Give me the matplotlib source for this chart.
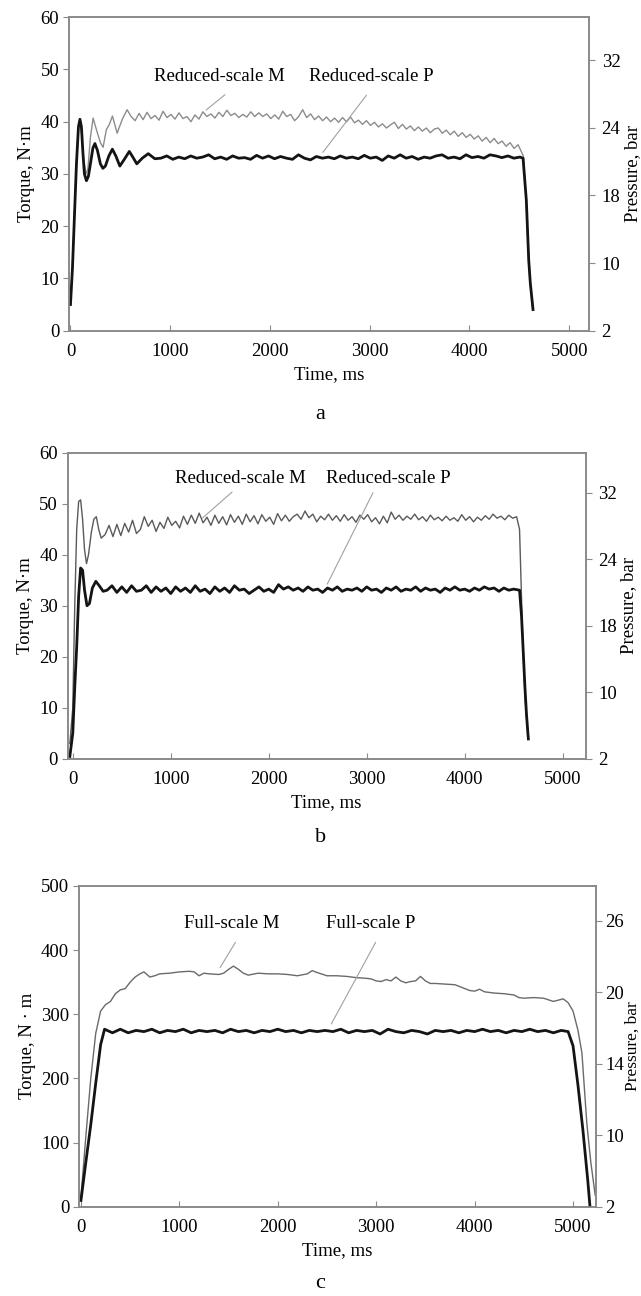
import numpy as np
import matplotlib.pyplot as plt

plt.rcParams['font.family'] = ['Liberation Serif', 'DejaVu Serif']

# ---------------- panel a : reduced-scale, torque M (N·m) and pressure P (bar)
a_m_start_t = [0, 20, 40, 60, 80, 95, 110, 130, 155, 175, 200, 227, 260, 300, 327, 360, 390, 421, 468, 520, 568]
a_m_start = [5, 12, 22, 32, 39, 40.3, 38, 33, 30, 31, 37, 40.7, 38.5, 36, 35.1, 38.5, 39.5, 41.1, 37.8, 40.5, 42.3]
a_m_plateau = [41.0, 40.2, 41.6, 40.4, 41.8, 40.6, 41.2, 40.3, 42.0, 40.8, 41.4, 40.5, 41.7, 40.6, 41.0, 40.0,
               41.3, 40.5, 41.9, 41.0, 41.5, 40.7, 41.8, 41.0, 42.2, 41.2, 41.6, 40.8, 41.4, 40.9, 41.9, 41.0,
               41.7, 41.0, 41.5, 40.6, 41.3, 40.5, 42.0, 41.0, 41.4, 40.2, 41.0, 42.3, 40.8, 41.5, 40.4, 41.1,
               40.2, 40.9, 40.0, 40.7, 39.9, 40.8, 40.0, 40.9, 39.8, 40.3, 39.5, 40.2, 39.3, 39.9, 39.0, 39.6,
               38.8, 39.4, 39.9, 38.7, 39.5, 38.6, 39.2, 38.3, 39.0, 38.2, 38.8, 37.9, 38.6, 38.8, 37.8, 38.4,
               37.5, 38.2, 37.2, 37.9, 37.0, 37.6, 36.7, 37.3, 36.3, 37.0, 36.0, 36.8, 35.8, 36.3, 35.3, 36.0,
               34.9, 35.6]
a_m_end_t = [4540, 4560, 4575, 4590, 4605, 4620, 4635]
a_m_end = [33.5, 28, 22, 15, 10, 7, 4]

a_p_start_t = [0, 20, 40, 60, 80, 95, 110, 125, 140, 160, 180, 200, 225, 245, 270, 300, 325, 350, 385, 420,
               455, 495, 540, 590, 625, 665, 720, 780, 846]
a_p_start = [5.1, 9.4, 15.6, 20.8, 24.1, 25.0, 24.1, 21.75, 19.9, 19.3, 19.7, 20.8, 22.2, 22.6, 22.0, 20.8,
             20.4, 20.6, 21.5, 22.1, 21.5, 20.6, 21.2, 21.9, 21.4, 20.8, 21.3, 21.7, 21.25]
a_p_plateau = [21.3, 21.5, 21.2, 21.4, 21.25, 21.5, 21.3, 21.4, 21.6, 21.25, 21.4, 21.2, 21.5, 21.3, 21.35,
               21.2, 21.55, 21.3, 21.5, 21.25, 21.45, 21.3, 21.2, 21.6, 21.3, 21.15, 21.45, 21.3, 21.4, 21.25,
               21.5, 21.3, 21.4, 21.25, 21.55, 21.3, 21.4, 21.1, 21.5, 21.3, 21.6, 21.3, 21.45, 21.2, 21.4,
               21.3, 21.5, 21.6, 21.3, 21.4, 21.25, 21.6, 21.35, 21.45, 21.3, 21.6, 21.5, 21.35, 21.5, 21.3,
               21.4]
a_p_end_t = [4538, 4571, 4595, 4611, 4638]
a_p_end = [21.3, 17.4, 10.3, 7.6, 4.5]

# ---------------- panel b : reduced-scale
b_m_start_t = [-30, 0, 20, 40, 60, 80, 100, 120, 140, 160, 190, 215, 240, 265, 290]
b_m_start = [3, 10, 30, 45, 50.5, 50.8, 47, 41, 38.3, 40, 44.5, 47, 47.5, 45, 43.3]
b_m_plateau = [44.0, 45.8, 43.6, 46.0, 43.8, 46.2, 44.5, 46.8, 44.2, 45.0, 47.5, 45.6, 46.8, 44.6, 46.4, 45.2,
               47.4, 45.8, 46.6, 45.3, 47.6, 46.0, 47.8, 46.2, 48.2, 46.3, 47.4, 45.8, 47.8, 46.2, 47.5, 45.9,
               47.9, 46.4, 47.6, 46.0, 48.0, 46.5, 47.7, 46.1, 47.9, 46.6, 47.4, 46.0, 48.1, 46.7, 47.8, 46.6,
               47.5, 48.0, 47.0, 48.6, 47.3, 48.0, 46.5, 47.6, 46.9, 48.0, 46.8, 47.7, 46.6, 47.9, 46.8, 47.5,
               46.4, 47.8, 47.0, 47.9, 46.5, 47.3, 46.1, 47.6, 46.3, 48.4, 47.0, 47.8, 46.8, 47.6, 47.0, 48.0,
               46.9, 47.5, 46.6, 47.8, 46.9, 47.4, 46.7, 47.6, 46.8, 47.3, 46.6, 47.9, 46.8, 47.5, 46.5, 47.4,
               46.8, 47.7, 47.0, 48.0, 47.2, 47.6, 46.9, 47.8, 47.2, 47.5]
b_m_end_t = [4560, 4575, 4590, 4605, 4620, 4635, 4650]
b_m_end = [45, 35, 25, 17, 11, 7, 4]

b_p_start_t = [-30, 0, 20, 40, 60, 80, 100, 120, 145, 170, 200, 235, 270, 310, 350]
b_p_start = [2.3, 5.1, 10.6, 15.5, 20.7, 23.2, 23.0, 21.2, 19.8, 20.0, 21.4, 22.0, 21.6, 21.1, 21.2]
b_p_plateau = [21.6, 21.0, 21.5, 21.0, 21.6, 21.1, 21.2, 21.6, 21.0, 21.5, 21.1, 21.4, 20.9, 21.5, 21.1,
               21.4, 21.0, 21.6, 21.1, 21.3, 20.9, 21.5, 21.1, 21.4, 21.0, 21.6, 21.2, 21.3, 20.9, 21.2,
               21.5, 21.1, 21.3, 21.0, 21.7, 21.3, 21.5, 21.2, 21.4, 21.1, 21.5, 21.2, 21.3, 21.0, 21.4,
               21.2, 21.5, 21.1, 21.3, 21.2, 21.4, 21.1, 21.5, 21.2, 21.3, 21.0, 21.4, 21.2, 21.5, 21.1,
               21.3, 21.2, 21.5, 21.1, 21.4, 21.2, 21.3, 21.0, 21.4, 21.2, 21.5, 21.2, 21.3, 21.1, 21.4,
               21.2, 21.5, 21.3, 21.4, 21.1, 21.4, 21.2, 21.3]
b_p_end_t = [4560, 4580, 4600, 4615, 4630, 4645, 4650]
b_p_end = [21.2, 18.9, 14.3, 10.6, 7.5, 5.1, 4.4]

# ---------------- panel c : full-scale
c_m_t = [0, 50, 100, 150, 200, 250, 300, 350, 400, 450, 500, 550, 600, 640, 700, 750, 800, 900, 1000, 1100,
         1150, 1200, 1250, 1300, 1400, 1450, 1500, 1550, 1600, 1650, 1700, 1800, 1900, 2000, 2100, 2200,
         2300, 2350, 2400, 2500, 2600, 2700, 2800, 2900, 2950, 3000, 3050, 3100, 3150, 3200, 3250, 3300,
         3350, 3400, 3450, 3500, 3550, 3600, 3700, 3800, 3850, 3900, 3950, 4000, 4050, 4100, 4200, 4300,
         4400, 4450, 4500, 4600, 4700, 4800, 4850, 4900, 4950, 5000, 5050, 5090, 5140, 5180, 5225]
c_m = [15, 110, 200, 270, 305, 315, 320, 332, 338, 340, 350, 358, 363, 366, 358, 360, 363, 364, 366, 367,
       366, 360, 364, 363, 362, 364, 370, 375, 370, 364, 361, 364, 363, 363, 362, 360,
       363, 368, 365, 360, 360, 359, 357, 356, 355, 352, 351, 354, 352, 358, 352, 349,
       351, 352, 359, 352, 348, 348, 347, 346, 343, 340, 337, 336, 339, 335, 333, 332,
       330, 326, 325, 326, 325, 320, 322, 324, 318, 305, 275, 240, 130, 70, 18]

c_p_start_t = [0, 50, 100, 150, 200, 240]
c_p_start = [2.7, 7.0, 10.6, 12.9, 15.6, 16.9]
c_p_plateau = [16.6, 16.9, 16.6, 16.8, 16.7, 16.9, 16.6, 16.8, 16.7, 16.9, 16.6, 16.8, 16.7, 16.8, 16.6,
               16.9, 16.7, 16.8, 16.6, 16.8, 16.7, 16.9, 16.7, 16.8, 16.6, 16.8, 16.7, 16.8, 16.7, 16.9,
               16.6, 16.8, 16.7, 16.8, 16.5, 16.9, 16.7, 16.6, 16.8, 16.7, 16.5, 16.8, 16.7, 16.8, 16.6,
               16.8, 16.7, 16.9, 16.7, 16.8, 16.6, 16.8, 16.7, 16.9, 16.7, 16.8, 16.6, 16.8]
c_p_end_t = [4950, 5000, 5050, 5100, 5150, 5172]
c_p_end = [16.7, 15.5, 12.8, 10.3, 4.9, 2.0]

# right-axis tick labels (the printed labels are equally spaced on the axis)
a_press_ticks = [2, 10, 18, 24, 32]
b_press_ticks = [2, 10, 18, 24, 32]
c_press_ticks = [2, 10, 14, 20, 26]


def join(t0, v0, step, plateau, t1, v1):
    t_mid = t0[-1] + step + step * np.arange(len(plateau))
    return np.concatenate([t0, t_mid, t1]), np.concatenate([v0, plateau, v1])


a_mt, a_mv = join(a_m_start_t, a_m_start, 40, a_m_plateau, a_m_end_t, a_m_end)
a_pt, a_pv = join(a_p_start_t, a_p_start, 60, a_p_plateau, a_p_end_t, a_p_end)
b_mt, b_mv = join(b_m_start_t, b_m_start, 40, b_m_plateau, b_m_end_t, b_m_end)
b_pt, b_pv = join(b_p_start_t, b_p_start, 50, b_p_plateau, b_p_end_t, b_p_end)
c_pt, c_pv = join(c_p_start_t, c_p_start, 80, c_p_plateau, c_p_end_t, c_p_end)

fig = plt.figure(figsize=(6.41, 12.96), dpi=100)
spine_c = '#8a8a8a'


def panel(rect, mt, mv, pt, pv, m_col, xlim, ylim, yticks, press_ticks, top_idx,
          m_name, p_name, txt_y, m_x, p_x, m_lead, p_lead, ylab, rpad, rfont=13.5, rtpad=5):
    ax = fig.add_axes(rect)
    ax2 = ax.twinx()
    ax.plot(mt, mv, color=m_col, lw=1.0, zorder=2)
    ax2.plot(pt, np.interp(pv, press_ticks, np.arange(len(press_ticks))), color='#141414', lw=2.0)
    ax.set_xlim(*xlim)
    ax.set_ylim(*ylim)
    ax2.set_ylim(0, top_idx)
    ax.set_xticks([0, 1000, 2000, 3000, 4000, 5000])
    ax.set_yticks(yticks)
    ax2.set_yticks(np.arange(len(press_ticks)))
    ax2.set_yticklabels([str(v) for v in press_ticks])
    ax.tick_params(axis='x', direction='in', length=4, pad=9, labelsize=13.5, color=spine_c)
    ax.tick_params(axis='y', direction='out', length=4, pad=3, labelsize=13.5, color=spine_c)
    ax2.tick_params(axis='y', direction='out', length=4, pad=rtpad, labelsize=13.5, color=spine_c)
    for a_ in (ax, ax2):
        for s in a_.spines.values():
            s.set_color(spine_c)
            s.set_linewidth(1.2)
    ax.set_xlabel('Time, ms', fontsize=13.5, labelpad=4)
    ax.set_ylabel(ylab, fontsize=13.5, labelpad=4)
    ax2.set_ylabel('Pressure, bar', fontsize=rfont, labelpad=rpad)
    ax.text(m_x, txt_y, m_name, ha='center', va='center', fontsize=13.5)
    ax.text(p_x, txt_y, p_name, ha='center', va='center', fontsize=13.5)
    for (x0, y0), (x1, y1) in (m_lead, p_lead):
        ax.annotate('', xy=(x1, y1), xytext=(x0, y0),
                    arrowprops=dict(arrowstyle='-', color='#a0a0a0', lw=0.8))
    return ax


panel([0.1076, 0.7448, 0.8114, 0.2419], a_mt, a_mv, a_pt, a_pv, '#8c8c8c', (-15, 5200), (0, 60),
      [0, 10, 20, 30, 40, 50, 60], a_press_ticks, 4.633, 'Reduced-scale M', 'Reduced-scale P', 48.6,
      1489, 3015, ((1570, 45.5), (1339, 41.9)), ((2985, 45.5), (2513, 33.7)), 'Torque, N·m', 3)

panel([0.1056, 0.4144, 0.8081, 0.2361], b_mt, b_mv, b_pt, b_pv, '#5a5a5a', (-52, 5235), (0, 60),
      [0, 10, 20, 30, 40, 50, 60], b_press_ticks, 4.594, 'Reduced-scale M', 'Reduced-scale P', 55.0,
      1709, 3224, ((1647, 52.7), (1304, 46.9)), ((3077, 52.7), (2585, 33.8)), 'Torque, N·m', 2)

panel([0.1232, 0.0689, 0.8061, 0.2475], c_m_t, c_m, c_pt, c_pv, '#6a6a6a', (-20, 5230), (0, 500),
      [0, 100, 200, 300, 400, 500], c_press_ticks, 4.488, 'Full-scale M', 'Full-scale P', 442,
      1535, 2942, ((1585, 416), (1399, 369)), ((3008, 416), (2530, 281)), 'Torque, N · m', 0,
      rfont=12.5, rtpad=3)

fig.text(0.5, 1 - 415 / 1296, 'a', ha='center', va='center', fontsize=16)
fig.text(0.5, 1 - 838 / 1296, 'b', ha='center', va='center', fontsize=16)
fig.text(0.5, 1 - 1284 / 1296, 'c', ha='center', va='center', fontsize=16)

fig.savefig('out.png', dpi=100, facecolor='white')
